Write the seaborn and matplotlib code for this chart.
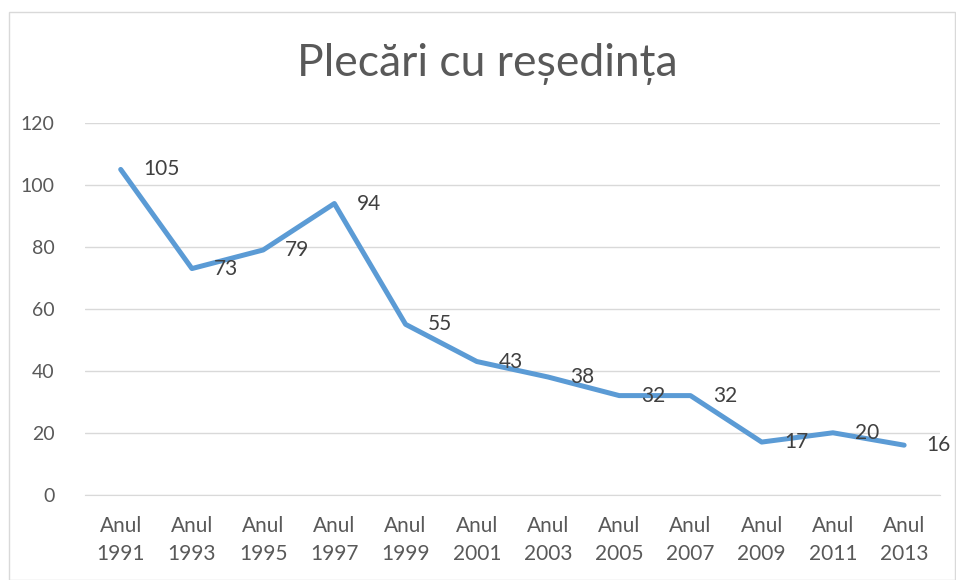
import pandas as pd
import matplotlib.pyplot as plt
import seaborn as sns
from matplotlib.patches import Rectangle

# data
years = ["1991", "1993", "1995", "1997", "1999", "2001", "2003",
         "2005", "2007", "2009", "2011", "2013"]
labels = ["Anul\n" + y for y in years]
values = [105, 73, 79, 94, 55, 43, 38, 32, 32, 17, 20, 16]

df = pd.DataFrame({"pos": range(len(years)), "val": values})

sns.set_style("white")
plt.rcParams["font.family"] = ["Lato", "DejaVu Sans"]

fig = plt.figure(figsize=(9.56, 5.8), dpi=100)
ax = fig.add_axes([0.089, 0.147, 0.894, 0.641])

sns.lineplot(data=df, x="pos", y="val", ax=ax, color="#5B9BD5", linewidth=3.6)

for x, v in zip(df["pos"], df["val"]):
    ax.annotate(str(v), (x, v), xytext=(16, 0), textcoords="offset points",
                ha="left", va="center", fontsize=15, color="#404040")

ax.set_xlim(-0.5, len(years) - 0.5)
ax.set_ylim(0, 120)
ax.set_yticks(range(0, 121, 20))
ax.yaxis.grid(True, color="#D9D9D9", linewidth=1)
ax.set_xticks(range(len(years)))
ax.set_xticklabels(labels, fontsize=15, color="#595959", linespacing=1.55)
ax.set_xticks([i - 0.5 for i in range(len(years) + 1)], minor=True)
ax.tick_params(axis="x", which="major", length=0, pad=15)
ax.tick_params(axis="x", which="minor", length=6, color="#D9D9D9", width=1)
ax.tick_params(axis="y", length=0, labelsize=14, labelcolor="#595959", pad=22)
ax.set_xlabel("")
ax.set_ylabel("")
for s in ["top", "right", "left"]:
    ax.spines[s].set_visible(False)
ax.spines["bottom"].set_color("#D9D9D9")

fig.text(0.51, 0.89, "Plecări cu reședința", ha="center", va="center",
         fontsize=32, color="#595959")

# outer chart border
fig.patches.append(Rectangle((0.009, 0.0), 0.99, 0.98, transform=fig.transFigure,
                             fill=False, edgecolor="#D9D9D9", linewidth=1))

fig.savefig("out.png", dpi=100)
